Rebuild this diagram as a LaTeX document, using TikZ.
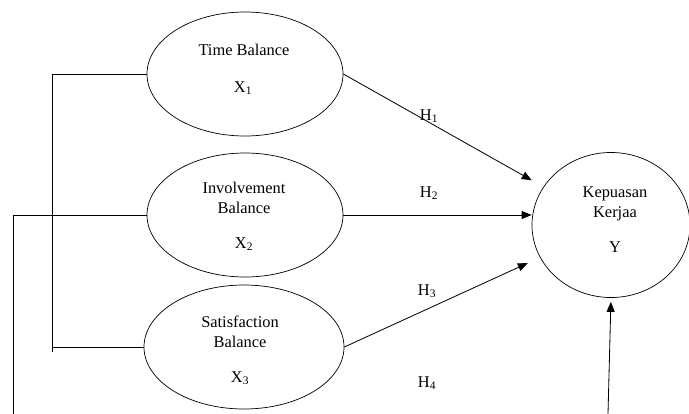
\documentclass[tikz,border=0pt]{standalone}
\usepackage{fontspec}
\setmainfont{Liberation Serif}
\usetikzlibrary{shapes.geometric,arrows.meta}

\begin{document}
\begin{tikzpicture}[x=0.03cm,y=-0.03cm,
        var/.style={draw,ellipse,line width=0.6pt,minimum width=5.88cm,minimum height=3.72cm},
        txt/.style={anchor=base,align=center,font=\fontsize{14}{17}\selectfont},
        arr/.style={-{Triangle[length=3mm,width=2.4mm]},line width=0.7pt}]
        \useasboundingbox (0,0) rectangle (689,414);
        % variables
        \node [var] (x1) at (245,74) {};
        \node [var] (x2) at (245,215) {};
        \node [var,minimum width=6cm] (x3) at (244,347) {};
        \node [var,minimum width=4.74cm,minimum height=4.35cm] (y) at (611,225) {};
        \node [txt] (t1) at (244,55) {Time Balance};
        \node [txt] (s1) at (243,92) {X\textsubscript{1}};
        \node [txt] (t2) at (244,213) {Involvement\\Balance};
        \node [txt] (s2) at (244,248) {X\textsubscript{2}};
        \node [txt] (t3) at (240,347) {Satisfaction\\Balance};
        \node [txt] (s3) at (240,382) {X\textsubscript{3}};
        \node [txt] (ty) at (615,217) {Kepuasan\\Kerjaa};
        \node [txt] (sy) at (615,252) {Y};
        % hypotheses
        \draw [arr,shorten >=0.4cm] (x1.east) -- (y);
        \draw [arr] (x2.east) -- (x2.east -| y.west);
        \draw [arr,shorten >=0.4cm] (x3.east) -- (y);
        \node [txt] (h1) at (429,120) {H\textsubscript{1}};
        \node [txt] (h2) at (429,197) {H\textsubscript{2}};
        \node [txt] (h3) at (427,295) {H\textsubscript{3}};
        \node [txt] (h4) at (427,387) {H\textsubscript{4}};
        % left lines
        \coordinate (b1) at (52,76);
        \coordinate (b3) at (52,352);
        \coordinate (c0) at (13,414);
        \coordinate (yin) at (608,414);
        \draw [line width=0.8pt] (x1.west) -- (x1.west -| b1) -- (b3);
        \draw [line width=0.8pt] (x3.west) -- (x3.west -| b3);
        \draw [line width=0.8pt] (x2.west) -| (c0);
        \draw [arr,shorten >=0.12cm] (yin) -- (y.south);
    \end{tikzpicture}
\end{document}
